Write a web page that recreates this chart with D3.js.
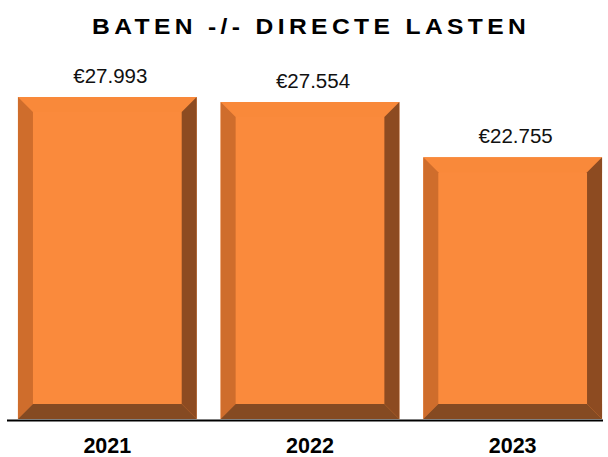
<!DOCTYPE html>
<html>
<head>
<meta charset="utf-8">
<script src="https://cdn.jsdelivr.net/npm/d3@7"></script>
<style>
  body { margin: 0; background: #fff; }
  text { font-family: "Liberation Sans", Arial, Helvetica, sans-serif; }
</style>
</head>
<body>
<div id="chart-container"></div>
<script>
const years = ["2021", "2022", "2023"];
const values = [27993, 27554, 22755];
const valueLabels = ["€27.993", "€27.554", "€22.755"];

const WIDTH = 608;
const HEIGHT = 457;
const BASE = 419;   // bottom of the bars
const BEVEL = 15;

const svg = d3.select("#chart-container").append("svg")
  .attr("width", WIDTH)
  .attr("height", HEIGHT);

const x = d3.scaleBand()
  .domain(years)
  .range([6, 614])
  .paddingInner(0.118)
  .paddingOuter(0.059);

const y = d3.scaleLinear()
  .domain([0, 27993])
  .range([BASE, 97]);

const data = years.map((yr, i) => ({ year: yr, value: values[i], label: valueLabels[i] }));

// title (slightly wide bold face, spaced out)
svg.append("text")
  .attr("transform", "translate(92, 34) scale(1.12, 1)")
  .attr("x", 0)
  .attr("y", 0)
  .style("font-size", "22px")
  .style("font-weight", "bold")
  .style("letter-spacing", "3.9px")
  .text("BATEN -/- DIRECTE LASTEN");

// bevelled bars
const bars = svg.selectAll("g.bar").data(data).enter().append("g")
  .attr("class", "bar");

function pts(arr) { return arr.map(p => p.join(",")).join(" "); }

bars.each(function(d) {
  const g = d3.select(this);
  const x0 = x(d.year), x1 = x0 + x.bandwidth();
  const y0 = y(d.value), y1 = y(0);
  const b = BEVEL;
  // face
  g.append("rect")
    .attr("x", x0).attr("y", y0)
    .attr("width", x1 - x0).attr("height", y1 - y0)
    .attr("fill", "#fa8a3c");
  // top
  g.append("polygon")
    .attr("points", pts([[x0, y0], [x1, y0], [x1 - b, y0 + b], [x0 + b, y0 + b]]))
    .attr("fill", "#f9893a");
  // left
  g.append("polygon")
    .attr("points", pts([[x0, y0], [x0 + b, y0 + b], [x0 + b, y1 - b], [x0, y1]]))
    .attr("fill", "#cf6d2c");
  // right
  g.append("polygon")
    .attr("points", pts([[x1, y0], [x1, y1], [x1 - b, y1 - b], [x1 - b, y0 + b]]))
    .attr("fill", "#8d4b21");
  // bottom
  g.append("polygon")
    .attr("points", pts([[x0, y1], [x0 + b, y1 - b], [x1 - b, y1 - b], [x1, y1]]))
    .attr("fill", "#854a22");
});

// value labels
svg.selectAll("text.value").data(data).enter().append("text")
  .attr("class", "value")
  .attr("x", d => x(d.year) + x.bandwidth() / 2 + 3)
  .attr("y", d => y(d.value) - 14)
  .attr("text-anchor", "middle")
  .style("font-size", "20.5px")
  .attr("fill", "#111")
  .text(d => d.label);

// baseline
svg.append("line")
  .attr("x1", 7).attr("x2", 603)
  .attr("y1", BASE + 1.5).attr("y2", BASE + 1.5)
  .attr("stroke", "#000")
  .attr("stroke-width", 2);

// category labels
const xAxis = d3.axisBottom(x).tickSize(0).tickPadding(0);
const xAxisGroup = svg.append("g")
  .attr("transform", `translate(0, ${BASE})`)
  .call(xAxis);
xAxisGroup.select(".domain").remove();
xAxisGroup.selectAll("text")
  .attr("dy", null)
  .attr("y", 34)
  .style("font-family", "'Liberation Sans', Arial, sans-serif")
  .style("font-size", "21.5px")
  .style("font-weight", "bold")
  .attr("fill", "#000");
</script>
</body>
</html>
